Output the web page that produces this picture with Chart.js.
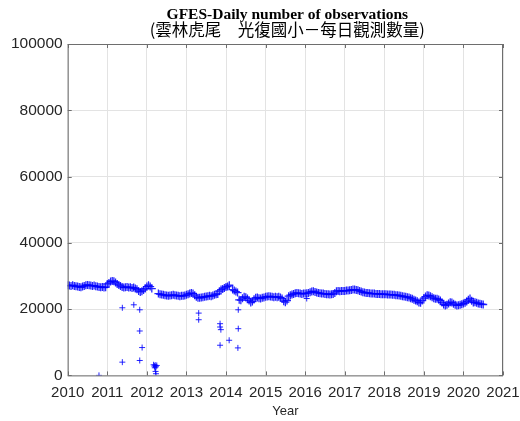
<!DOCTYPE html>
<html>
<head>
<meta charset="utf-8">
<script src="https://cdn.jsdelivr.net/npm/chart.js@4.4.1/dist/chart.umd.min.js"></script>
<style>
  html, body { margin: 0; padding: 0; background: #fff; }
  #wrap { width: 520px; height: 421px; }
</style>
</head>
<body>
<div id="wrap"><canvas id="chart" width="520" height="421"></canvas></div>
<script>
// Main band: one value per half month, 24 per year (null = no data)
const obs2010 = [27200, 27100, 27000, 27200, 27000, 26900, 26800, 26700, 26600, 26800, 27000, 27200,
  27300, 27200, 27100, 27000, 27100, 26900, 26800, 26700, 26600, 26700, 26500, 26600];
const obs2011 = [27600, 27900, 28300, 28500, 28400, 28000, 27600, 27300, 27000, 26700, 26500, 26600,
  26700, 26500, 26600, 26400, 26500, 26200, 26000, 25500, 25200, 25400, 25800, 26200];
const obs2012 = [26800, 27200, 26800, 26200, null, null, null, 24700, 24500, 24400, 24300, 24200,
  24100, 24000, 24100, 24200, 24300, 24200, 24100, 24000, 23900, 24000, 24000, 24100];
const obs2013 = [24300, 24500, 24700, 24900, 24700, 24200, 23700, 23400, 23400, 23500, 23600, 23700,
  23800, 23900, 24000, 23900, 24100, 24300, 24500, 24600, 25400, 25900, 26100, 26400];
const obs2014 = [26700, 26800, 27200, null, 25900, 25600, 25300, 25000, 22800, 22700, 23300, 23700,
  23600, 23200, 22600, 22000, 22300, 23000, 23400, 23500, 23300, 23200, 23400, 23500];
const obs2015 = [23700, 23800, 23900, 23800, 23700, 23600, 23700, 23600, 23700, 23500, 23200, 22400,
  22100, 22600, 23900, 24200, 24400, 24600, 24800, 24900, 24800, 24700, 24600, 24700];
const obs2016 = [24700, 24800, 24900, 25100, 25300, 25400, 25200, 25000, 24900, 24800, 24700, 24700,
  24600, 24500, 24500, 24400, 24500, 24600, 24900, 25400, 25500, 25400, 25500, 25500];
const obs2017 = [25500, 25600, 25600, 25700, 25800, 25900, 25900, 25800, 25700, 25500, 25300, 25100,
  25000, 24900, 24900, 24800, 24700, 24700, 24700, 24600, 24600, 24600, 24500, 24500];
const obs2018 = [24500, 24500, 24400, 24400, 24400, 24300, 24300, 24200, 24200, 24100, 24000, 23900,
  23800, 23700, 23600, 23500, 23300, 23100, 22800, 22600, 22400, 22000, 21900, 22600];
const obs2019 = [23300, 23800, 24200, 24100, 23900, 23600, 23300, 23100, 23100, 22900, 22600, 22000,
  21400, 21100, 21300, 21700, 22100, 22000, 21600, 21300, 21100, 21200, 21300, 21500];
const obs2020 = [21700, 21900, 22300, 22800, 23200, 22500, 22000, 22100, 21900, 21700, 21600, 21500,
  21400];

const bandYears = [2010, 2011, 2012, 2013, 2014, 2015, 2016, 2017, 2018, 2019, 2020];
const bandByYear = [obs2010, obs2011, obs2012, obs2013, obs2014, obs2015, obs2016, obs2017, obs2018, obs2019, obs2020];

// Scattered low days (decimal year, count)
const outlierYears = [2010.79, 2011.38, 2011.67, 2011.82, 2011.82, 2011.88, 2011.82, 2011.38,
  2012.17, 2012.19, 2012.21, 2012.23, 2012.25, 2012.20, 2012.22, 2012.23,
  2013.31, 2013.31, 2013.85, 2013.85, 2013.87, 2013.85, 2014.08, 2014.31, 2014.31, 2014.30, 2016.04];
const outlierValues = [0, 20400, 21300, 19800, 13400, 8400, 4500, 4000,
  3200, 2800, 3100, 2600, 3000, 2300, 1200, 500,
  18800, 16800, 15600, 14600, 13800, 9100, 10600, 19800, 14100, 8300, 23200];

const xRange = [2010, 2021];
const yRange = [0, 100000];

const bandPoints = [];
bandByYear.forEach((vals, i) => {
  vals.forEach((v, k) => {
    if (v !== null) bandPoints.push({ x: bandYears[i] + k / 24, y: v });
  });
});
const outlierPoints = outlierYears.map((x, i) => ({ x, y: outlierValues[i] }));

const markColor = 'rgba(0, 0, 255, 0.85)';
const axisColor = '#6e6e6e';
const textColor = '#262626';

// Title text, box around axes and inward tick marks (MATLAB look)
const matlabFrame = {
  id: 'matlabFrame',
  afterDraw(chart) {
    const { ctx, chartArea: a, scales } = chart;
    ctx.save();
    ctx.strokeStyle = axisColor;
    ctx.lineWidth = 1;
    ctx.strokeRect(a.left + 0.5, a.top + 0.5, a.right - a.left - 1, a.bottom - a.top);
    ctx.beginPath();
    scales.x.ticks.forEach(t => {
      const px = Math.round(scales.x.getPixelForValue(t.value)) + 0.5;
      ctx.moveTo(px, a.bottom); ctx.lineTo(px, a.bottom - 4);
      ctx.moveTo(px, a.top); ctx.lineTo(px, a.top + 4);
    });
    scales.y.ticks.forEach(t => {
      const py = Math.round(scales.y.getPixelForValue(t.value)) + 0.5;
      ctx.moveTo(a.left, py); ctx.lineTo(a.left + 4, py);
      ctx.moveTo(a.right, py); ctx.lineTo(a.right - 4, py);
    });
    ctx.stroke();

    const cx = (a.left + a.right) / 2 + 2;
    ctx.fillStyle = '#000';
    ctx.textAlign = 'center';
    ctx.textBaseline = 'alphabetic';
    ctx.font = 'bold 15.5px "Liberation Serif", "Times New Roman", serif';
    ctx.fillText('GFES-Daily number of observations', cx, 18.5);
    ctx.textBaseline = 'middle';
    ctx.font = '16.5px "Noto Sans CJK TC", "Noto Sans CJK SC", sans-serif';
    ctx.fillText('(雲林虎尾　光復國小－每日觀測數量)', cx, 30);
    ctx.restore();
  }
};

new Chart(document.getElementById('chart'), {
  type: 'scatter',
  data: {
    datasets: [
      {
        data: bandPoints,
        pointStyle: 'cross',
        pointRadius: 4,
        borderColor: markColor,
        borderWidth: 1.3,
        showLine: false,
      },
      {
        data: outlierPoints,
        pointStyle: 'cross',
        pointRadius: 3,
        borderColor: markColor,
        borderWidth: 1,
        showLine: false,
      },
    ],
  },
  options: {
    responsive: false,
    animation: false,
    layout: { padding: { left: 6, right: 0, top: 44, bottom: 0 } },
    plugins: {
      legend: { display: false },
      tooltip: { enabled: false },
      title: { display: false },
    },
    scales: {
      x: {
        type: 'linear',
        min: xRange[0],
        max: xRange[1],
        afterFit: scale => { scale.paddingRight = 17; },
        ticks: {
          stepSize: 1,
          color: textColor,
          font: { family: '"Liberation Sans", Arial, sans-serif', size: 15 },
          padding: 8,
          maxRotation: 0,
          callback: v => String(v),
        },
        grid: { color: '#e3e3e3', drawTicks: false },
        border: { display: false },
        title: {
          display: true,
          text: 'Year',
          color: textColor,
          font: { family: '"Liberation Sans", Arial, sans-serif', size: 13 },
          padding: { top: -6, bottom: 2 },
        },
      },
      y: {
        min: yRange[0],
        max: yRange[1],
        ticks: {
          stepSize: 20000,
          color: textColor,
          font: { family: '"Liberation Sans", Arial, sans-serif', size: 15.5 },
          padding: 5,
          callback: v => String(v),
        },
        grid: { color: '#e3e3e3', drawTicks: false },
        border: { display: false },
      },
    },
  },
  plugins: [matlabFrame],
});
</script>
</body>
</html>
